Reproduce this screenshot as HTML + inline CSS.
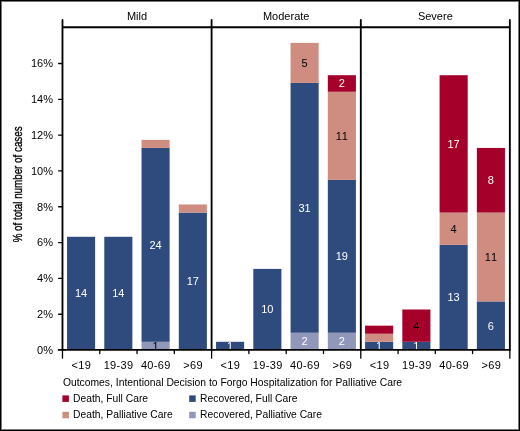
<!DOCTYPE html><html><head><meta charset="utf-8"><style>html,body{margin:0;padding:0;background:#fff}svg{display:block;will-change:transform}text{font-family:"Liberation Sans", sans-serif}.nk{font-kerning:none}</style></head><body>
<svg width="520" height="431" viewBox="0 0 520 431">
<rect x="0" y="0" width="520" height="431" fill="#fff"/>
<rect x="67.02" y="236.79" width="28.10" height="113.09" fill="#2f4b7e"/>
<text class="nk" x="81.07" y="297.33" font-size="11" fill="#fff" text-anchor="middle">14</text>
<rect x="104.28" y="236.79" width="28.10" height="113.09" fill="#2f4b7e"/>
<text class="nk" x="118.33" y="297.33" font-size="11" fill="#fff" text-anchor="middle">14</text>
<rect x="141.53" y="341.80" width="28.10" height="8.08" fill="#9097b9"/>
<rect x="141.53" y="147.93" width="28.10" height="193.87" fill="#2f4b7e"/>
<rect x="141.53" y="139.85" width="28.10" height="8.08" fill="#ce8d80"/>
<text class="nk" x="155.58" y="349.84" font-size="11" fill="#000" text-anchor="middle">1</text>
<text class="nk" x="155.58" y="248.87" font-size="11" fill="#fff" text-anchor="middle">24</text>
<rect x="178.79" y="212.55" width="28.10" height="137.33" fill="#2f4b7e"/>
<rect x="178.79" y="204.48" width="28.10" height="8.08" fill="#ce8d80"/>
<text class="nk" x="192.84" y="285.22" font-size="11" fill="#fff" text-anchor="middle">17</text>
<rect x="216.05" y="341.80" width="28.10" height="8.08" fill="#2f4b7e"/>
<text class="nk" x="230.10" y="349.84" font-size="11" fill="#fff" text-anchor="middle">1</text>
<rect x="253.31" y="268.90" width="28.10" height="80.98" fill="#2f4b7e"/>
<text class="nk" x="267.36" y="313.39" font-size="11" fill="#fff" text-anchor="middle">10</text>
<rect x="290.56" y="332.75" width="28.10" height="17.13" fill="#9097b9"/>
<rect x="290.56" y="82.94" width="28.10" height="249.81" fill="#2f4b7e"/>
<rect x="290.56" y="42.87" width="28.10" height="40.07" fill="#ce8d80"/>
<text class="nk" x="304.61" y="345.31" font-size="11" fill="#fff" text-anchor="middle">2</text>
<text class="nk" x="304.61" y="211.84" font-size="11" fill="#fff" text-anchor="middle">31</text>
<text class="nk" x="304.61" y="66.91" font-size="11" fill="#000" text-anchor="middle">5</text>
<rect x="327.82" y="332.75" width="28.10" height="17.13" fill="#9097b9"/>
<rect x="327.82" y="179.88" width="28.10" height="152.87" fill="#2f4b7e"/>
<rect x="327.82" y="91.75" width="28.10" height="88.13" fill="#ce8d80"/>
<rect x="327.82" y="75.20" width="28.10" height="16.55" fill="#a4002a"/>
<text class="nk" x="341.87" y="345.31" font-size="11" fill="#fff" text-anchor="middle">2</text>
<text class="nk" x="341.87" y="260.31" font-size="11" fill="#fff" text-anchor="middle">19</text>
<text class="nk" x="341.87" y="139.81" font-size="11" fill="#000" text-anchor="middle">11</text>
<text class="nk" x="341.87" y="87.47" font-size="11" fill="#fff" text-anchor="middle">2</text>
<rect x="365.08" y="341.80" width="28.10" height="8.08" fill="#2f4b7e"/>
<rect x="365.08" y="333.72" width="28.10" height="8.08" fill="#ce8d80"/>
<rect x="365.08" y="325.65" width="28.10" height="8.08" fill="#a4002a"/>
<text class="nk" x="379.13" y="349.84" font-size="11" fill="#fff" text-anchor="middle">1</text>
<rect x="402.33" y="341.80" width="28.10" height="8.08" fill="#2f4b7e"/>
<rect x="402.33" y="309.49" width="28.10" height="32.31" fill="#a4002a"/>
<text class="nk" x="416.38" y="349.84" font-size="11" fill="#fff" text-anchor="middle">1</text>
<text class="nk" x="416.38" y="329.65" font-size="11" fill="#000" text-anchor="middle">4</text>
<rect x="439.59" y="244.87" width="28.10" height="105.01" fill="#2f4b7e"/>
<rect x="439.59" y="212.55" width="28.10" height="32.31" fill="#ce8d80"/>
<rect x="439.59" y="75.23" width="28.10" height="137.33" fill="#a4002a"/>
<text class="nk" x="453.64" y="301.37" font-size="11" fill="#fff" text-anchor="middle">13</text>
<text class="nk" x="453.64" y="232.71" font-size="11" fill="#000" text-anchor="middle">4</text>
<text class="nk" x="453.64" y="147.89" font-size="11" fill="#fff" text-anchor="middle">17</text>
<rect x="476.85" y="301.41" width="28.10" height="48.47" fill="#2f4b7e"/>
<rect x="476.85" y="212.55" width="28.10" height="88.86" fill="#ce8d80"/>
<rect x="476.85" y="147.93" width="28.10" height="64.62" fill="#a4002a"/>
<text class="nk" x="490.90" y="329.65" font-size="11" fill="#fff" text-anchor="middle">6</text>
<text class="nk" x="490.90" y="260.98" font-size="11" fill="#000" text-anchor="middle">11</text>
<text class="nk" x="490.90" y="184.24" font-size="11" fill="#fff" text-anchor="middle">8</text>
<line x1="62.48" y1="27.20" x2="509.85" y2="27.20" stroke="#000" stroke-width="1.85"/>
<line x1="62.48" y1="349.90" x2="509.85" y2="349.90" stroke="#000" stroke-width="1.85"/>
<line x1="62.48" y1="19.90" x2="62.48" y2="349.90" stroke="#000" stroke-width="1.85" stroke-linecap="round"/>
<line x1="62.48" y1="349.90" x2="62.48" y2="358.15" stroke="#000" stroke-width="1.30" stroke-linecap="round"/>
<line x1="211.60" y1="19.90" x2="211.60" y2="349.90" stroke="#000" stroke-width="1.85" stroke-linecap="round"/>
<line x1="211.60" y1="349.90" x2="211.60" y2="358.15" stroke="#000" stroke-width="1.30" stroke-linecap="round"/>
<line x1="360.80" y1="19.90" x2="360.80" y2="349.90" stroke="#000" stroke-width="1.85" stroke-linecap="round"/>
<line x1="360.80" y1="349.90" x2="360.80" y2="358.15" stroke="#000" stroke-width="1.30" stroke-linecap="round"/>
<line x1="509.85" y1="19.90" x2="509.85" y2="349.90" stroke="#000" stroke-width="1.85" stroke-linecap="round"/>
<line x1="509.85" y1="349.90" x2="509.85" y2="358.15" stroke="#000" stroke-width="1.30" stroke-linecap="round"/>
<line x1="99.76" y1="349.90" x2="99.76" y2="353.60" stroke="#000" stroke-width="1.30" stroke-linecap="round"/>
<line x1="137.04" y1="349.90" x2="137.04" y2="353.60" stroke="#000" stroke-width="1.30" stroke-linecap="round"/>
<line x1="174.32" y1="349.90" x2="174.32" y2="353.60" stroke="#000" stroke-width="1.30" stroke-linecap="round"/>
<line x1="248.90" y1="349.90" x2="248.90" y2="353.60" stroke="#000" stroke-width="1.30" stroke-linecap="round"/>
<line x1="286.20" y1="349.90" x2="286.20" y2="353.60" stroke="#000" stroke-width="1.30" stroke-linecap="round"/>
<line x1="323.50" y1="349.90" x2="323.50" y2="353.60" stroke="#000" stroke-width="1.30" stroke-linecap="round"/>
<line x1="398.06" y1="349.90" x2="398.06" y2="353.60" stroke="#000" stroke-width="1.30" stroke-linecap="round"/>
<line x1="435.33" y1="349.90" x2="435.33" y2="353.60" stroke="#000" stroke-width="1.30" stroke-linecap="round"/>
<line x1="472.59" y1="349.90" x2="472.59" y2="353.60" stroke="#000" stroke-width="1.30" stroke-linecap="round"/>
<line x1="58.65" y1="349.90" x2="62.48" y2="349.90" stroke="#000" stroke-width="1.85" stroke-linecap="round"/>
<text class="nk" x="53" y="353.95" font-size="11" fill="#000" text-anchor="end">0%</text>
<line x1="58.65" y1="314.23" x2="62.48" y2="314.23" stroke="#000" stroke-width="1.30" stroke-linecap="round"/>
<text class="nk" x="53" y="318.13" font-size="11" fill="#000" text-anchor="end">2%</text>
<line x1="58.65" y1="278.41" x2="62.48" y2="278.41" stroke="#000" stroke-width="1.30" stroke-linecap="round"/>
<text class="nk" x="53" y="282.31" font-size="11" fill="#000" text-anchor="end">4%</text>
<line x1="58.65" y1="242.59" x2="62.48" y2="242.59" stroke="#000" stroke-width="1.30" stroke-linecap="round"/>
<text class="nk" x="53" y="246.49" font-size="11" fill="#000" text-anchor="end">6%</text>
<line x1="58.65" y1="206.77" x2="62.48" y2="206.77" stroke="#000" stroke-width="1.30" stroke-linecap="round"/>
<text class="nk" x="53" y="210.67" font-size="11" fill="#000" text-anchor="end">8%</text>
<line x1="58.65" y1="170.95" x2="62.48" y2="170.95" stroke="#000" stroke-width="1.30" stroke-linecap="round"/>
<text class="nk" x="53" y="174.85" font-size="11" fill="#000" text-anchor="end">10%</text>
<line x1="58.65" y1="135.13" x2="62.48" y2="135.13" stroke="#000" stroke-width="1.30" stroke-linecap="round"/>
<text class="nk" x="53" y="139.03" font-size="11" fill="#000" text-anchor="end">12%</text>
<line x1="58.65" y1="99.31" x2="62.48" y2="99.31" stroke="#000" stroke-width="1.30" stroke-linecap="round"/>
<text class="nk" x="53" y="103.21" font-size="11" fill="#000" text-anchor="end">14%</text>
<line x1="58.65" y1="63.49" x2="62.48" y2="63.49" stroke="#000" stroke-width="1.30" stroke-linecap="round"/>
<text class="nk" x="53" y="67.39" font-size="11" fill="#000" text-anchor="end">16%</text>
<text x="137.04" y="19.6" font-size="11" fill="#000" text-anchor="middle">Mild</text>
<text class="nk" x="81.30" y="369" font-size="11" fill="#000" text-anchor="middle" letter-spacing="0.35">&lt;19</text>
<text class="nk" x="118.58" y="369" font-size="11" fill="#000" text-anchor="middle" letter-spacing="0.35">19-39</text>
<text class="nk" x="155.86" y="369" font-size="11" fill="#000" text-anchor="middle" letter-spacing="0.35">40-69</text>
<text class="nk" x="193.14" y="369" font-size="11" fill="#000" text-anchor="middle" letter-spacing="0.35">&gt;69</text>
<text x="286.20" y="19.6" font-size="11" fill="#000" text-anchor="middle">Moderate</text>
<text class="nk" x="230.43" y="369" font-size="11" fill="#000" text-anchor="middle" letter-spacing="0.35">&lt;19</text>
<text class="nk" x="267.73" y="369" font-size="11" fill="#000" text-anchor="middle" letter-spacing="0.35">19-39</text>
<text class="nk" x="305.03" y="369" font-size="11" fill="#000" text-anchor="middle" letter-spacing="0.35">40-69</text>
<text class="nk" x="342.32" y="369" font-size="11" fill="#000" text-anchor="middle" letter-spacing="0.35">&gt;69</text>
<text x="435.33" y="19.6" font-size="11" fill="#000" text-anchor="middle">Severe</text>
<text class="nk" x="379.61" y="369" font-size="11" fill="#000" text-anchor="middle" letter-spacing="0.35">&lt;19</text>
<text class="nk" x="416.87" y="369" font-size="11" fill="#000" text-anchor="middle" letter-spacing="0.35">19-39</text>
<text class="nk" x="454.13" y="369" font-size="11" fill="#000" text-anchor="middle" letter-spacing="0.35">40-69</text>
<text class="nk" x="491.39" y="369" font-size="11" fill="#000" text-anchor="middle" letter-spacing="0.35">&gt;69</text>
<text transform="translate(22,184.4) rotate(-90) scale(0.754,1)" font-size="13" fill="#000" stroke="#000" stroke-width="0.35" text-anchor="middle">% of total number of cases</text>
<text x="62.9" y="385.6" font-size="10.35" fill="#000">Outcomes, Intentional Decision to Forgo Hospitalization for Palliative Care</text>
<rect x="62.40" y="395.40" width="6.5" height="6.5" fill="#a4002a"/>
<text x="73.10" y="401.80" font-size="10.3" fill="#000">Death, Full Care</text>
<rect x="62.40" y="411.80" width="6.5" height="6.5" fill="#ce8d80"/>
<text x="73.10" y="418.20" font-size="10.3" fill="#000">Death, Palliative Care</text>
<rect x="189.20" y="395.40" width="6.5" height="6.5" fill="#2f4b7e"/>
<text x="200.10" y="401.80" font-size="10.3" fill="#000">Recovered, Full Care</text>
<rect x="189.20" y="411.80" width="6.5" height="6.5" fill="#9097b9"/>
<text x="200.10" y="418.20" font-size="10.3" fill="#000">Recovered, Palliative Care</text>
<rect x="0.5" y="0.5" width="519" height="430" fill="none" stroke="#000" stroke-width="1"/>
<rect x="1.5" y="1.5" width="517" height="428" fill="none" stroke="#777" stroke-width="1"/>
</svg></body></html>
